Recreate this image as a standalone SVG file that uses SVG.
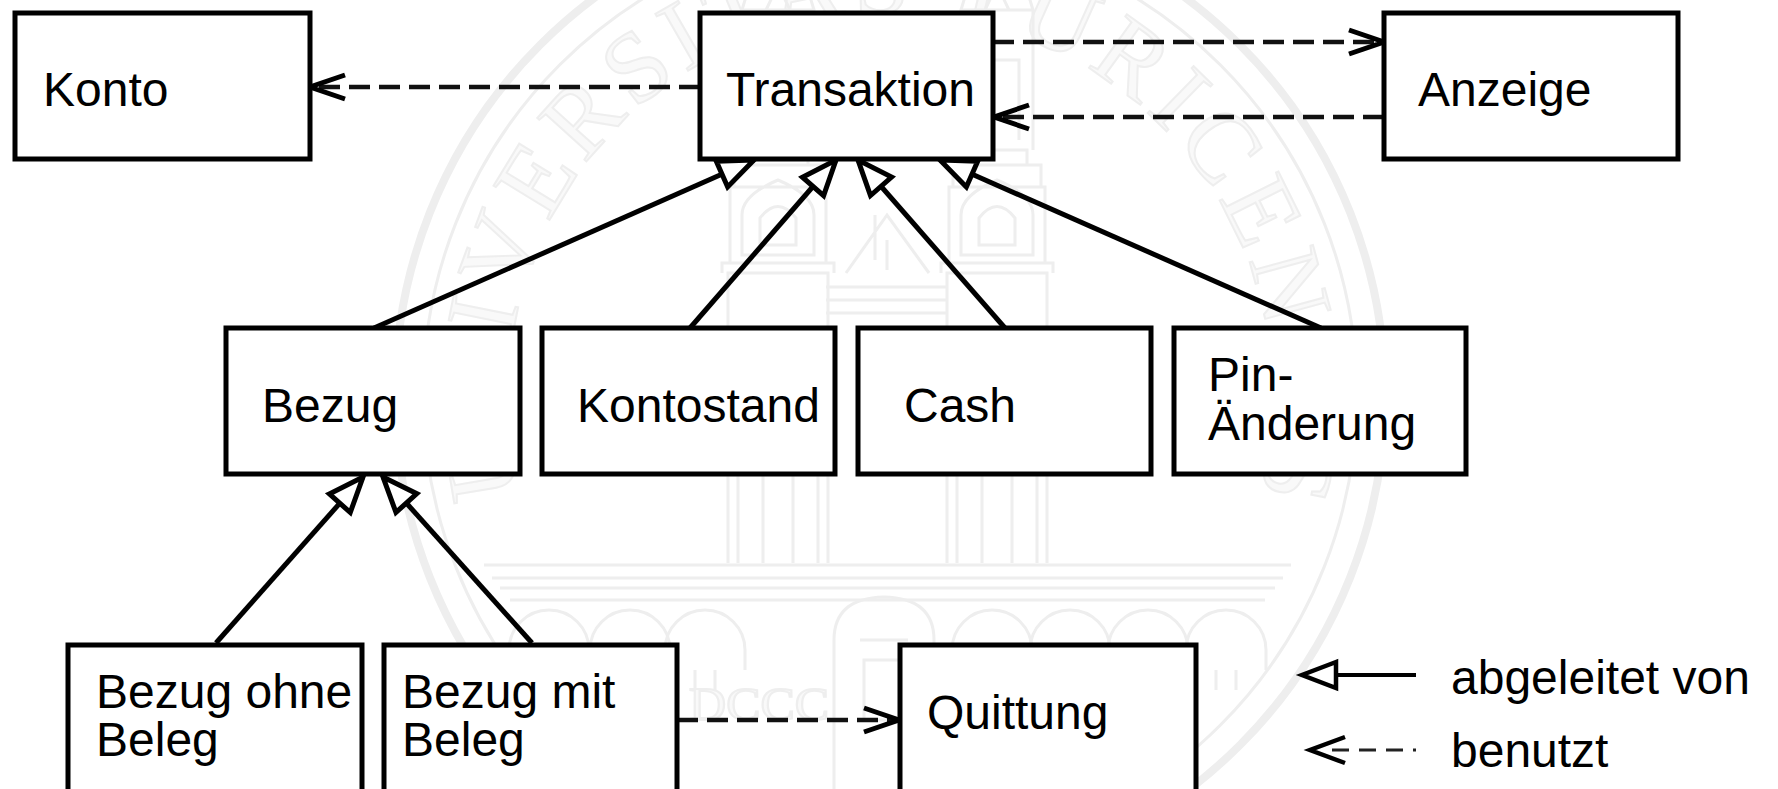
<svg xmlns="http://www.w3.org/2000/svg" width="1778" height="789" viewBox="0 0 1778 789">
<style>
.bg{fill:none;stroke:#eeeeee;stroke-width:3}
.seal{font-family:"Liberation Serif",serif;fill:#f9f9f9;stroke:#eeeeee;stroke-width:2}
.box{fill:#fff;stroke:#000;stroke-width:5}
.lbl{font-family:"Liberation Sans",Arial,sans-serif;font-size:48px;fill:#000}
.inh{fill:none;stroke:#000;stroke-width:5;marker-end:url(#tri)}
.use{fill:none;stroke:#111;stroke-width:4.5;stroke-dasharray:21 9;marker-end:url(#open)}
</style>
<defs>
<marker id="tri" markerUnits="userSpaceOnUse" markerWidth="50" markerHeight="44" refX="40" refY="22" orient="auto" overflow="visible">
<path d="M5 8L40 22L5 36Z" fill="#fff" stroke="#000" stroke-width="5"/>
</marker>
<marker id="open" markerUnits="userSpaceOnUse" markerWidth="50" markerHeight="44" refX="40" refY="22" orient="auto" overflow="visible">
<path d="M5 10L40 22L5 34" fill="none" stroke="#000" stroke-width="5"/>
</marker>
<path id="sealArc" d="M521 494A382 382 0 1 1 1259 494"/>
<g id="tower" class="bg">
<path d="M-50 563V345H50V563M-40 563V355H40V563M-56 345V335H56V345M-15 563V360M15 563V360"/>
<path d="M-50 335V273H50V335"/>
<path d="M-56 273V263H56V273M-48 263V187H48V263M-36 255V215Q-36 195 0 180Q36 195 36 215V255ZM-18 245V218Q0 195 18 218V245Z"/>
<path d="M-44 187V165H44V187M-30 165V150H30V165M-36 150V10H36V150M-22 140V60H22V140M-36 10L-30 -10M36 10L30 -10M-12 10L0 -15L12 10"/>
</g>
<g id="arch" class="bg"><path d="M-40 670V650A40 40 0 0 1 40 650V670M-10 670V690M10 670V690"/></g>
</defs>
<g id="watermark">
<circle class="bg" cx="890" cy="395" r="495" style="stroke-width:8"/>
<circle class="bg" cx="890" cy="395" r="467"/>
<text class="seal" font-size="100"><textPath href="#sealArc" textLength="1400" lengthAdjust="spacing">UNIVERSITAS TURICENSIS</textPath></text>
<use href="#tower" x="778" y="0"/>
<use href="#tower" x="997" y="0"/>
<path class="bg" d="M846 273L887 215L929 273M826 287H947M826 300H947M826 313H947M875 215V260M887 240V270"/>
<path class="bg" d="M484 565H1291M492 578H1283M500 588H1275M510 600H1265"/>
<use href="#arch" x="549" y="0"/>
<use href="#arch" x="630" y="0"/>
<use href="#arch" x="705" y="0"/>
<use href="#arch" x="992" y="0"/>
<use href="#arch" x="1070" y="0"/>
<use href="#arch" x="1148" y="0"/>
<use href="#arch" x="1226" y="0"/>
<path class="bg" d="M834 789V640Q834 598 884 597Q934 598 934 640V789M860 640H908M864 660H904V720H864Z"/>
<text class="seal" x="689" y="720" font-size="46" textLength="140" lengthAdjust="spacingAndGlyphs">DCCC</text>
</g>
<g id="connectors">
<path class="use" d="M700 87H310"/>
<path class="use" d="M993 42H1384"/>
<path class="use" d="M1384 117H994"/>
<path class="use" d="M677 720H899"/>
<path class="inh" d="M374 328L754 160"/>
<path class="inh" d="M690 328L836 160"/>
<path class="inh" d="M1005 328L858 160"/>
<path class="inh" d="M1321 328L940 160"/>
<path class="inh" d="M216 643L363 477"/>
<path class="inh" d="M532 643L383 477"/>
</g>
<g id="konto"><rect class="box" x="15" y="13" width="295" height="146"/><text class="lbl" x="43" y="106">Konto</text></g>
<g id="transaktion"><rect class="box" x="700" y="13" width="293" height="146"/><text class="lbl" x="726" y="106">Transaktion</text></g>
<g id="anzeige"><rect class="box" x="1384" y="13" width="294" height="146"/><text class="lbl" x="1418" y="106">Anzeige</text></g>
<g id="bezug"><rect class="box" x="226" y="328" width="294" height="146"/><text class="lbl" x="262" y="422">Bezug</text></g>
<g id="kontostand"><rect class="box" x="542" y="328" width="293" height="146"/><text class="lbl" x="577" y="422">Kontostand</text></g>
<g id="cash"><rect class="box" x="858" y="328" width="293" height="146"/><text class="lbl" x="904" y="422">Cash</text></g>
<g id="pin"><rect class="box" x="1174" y="328" width="292" height="146"/><text class="lbl" x="1208" y="391">Pin-</text><text class="lbl" x="1208" y="440">Änderung</text></g>
<g id="bezug-ohne"><rect class="box" x="68" y="645" width="294" height="160"/><text class="lbl" x="96" y="708">Bezug ohne</text><text class="lbl" x="96" y="756">Beleg</text></g>
<g id="bezug-mit"><rect class="box" x="384" y="645" width="293" height="160"/><text class="lbl" x="402" y="708">Bezug mit</text><text class="lbl" x="402" y="756">Beleg</text></g>
<g id="quittung"><rect class="box" x="900" y="645" width="296" height="160"/><text class="lbl" x="927" y="729">Quittung</text></g>
<g id="legend">
<path d="M1336 675H1416" fill="none" stroke="#000" stroke-width="4"/>
<path d="M1336 662L1302 675L1336 688Z" fill="#fff" stroke="#000" stroke-width="4.5"/>
<path d="M1332 750H1416" fill="none" stroke="#222" stroke-width="3" stroke-dasharray="17 10"/>
<path d="M1345 737L1310 750L1345 763" fill="none" stroke="#000" stroke-width="4.5"/>
<text class="lbl" x="1451" y="694">abgeleitet von</text>
<text class="lbl" x="1451" y="767">benutzt</text>
</g>
</svg>
